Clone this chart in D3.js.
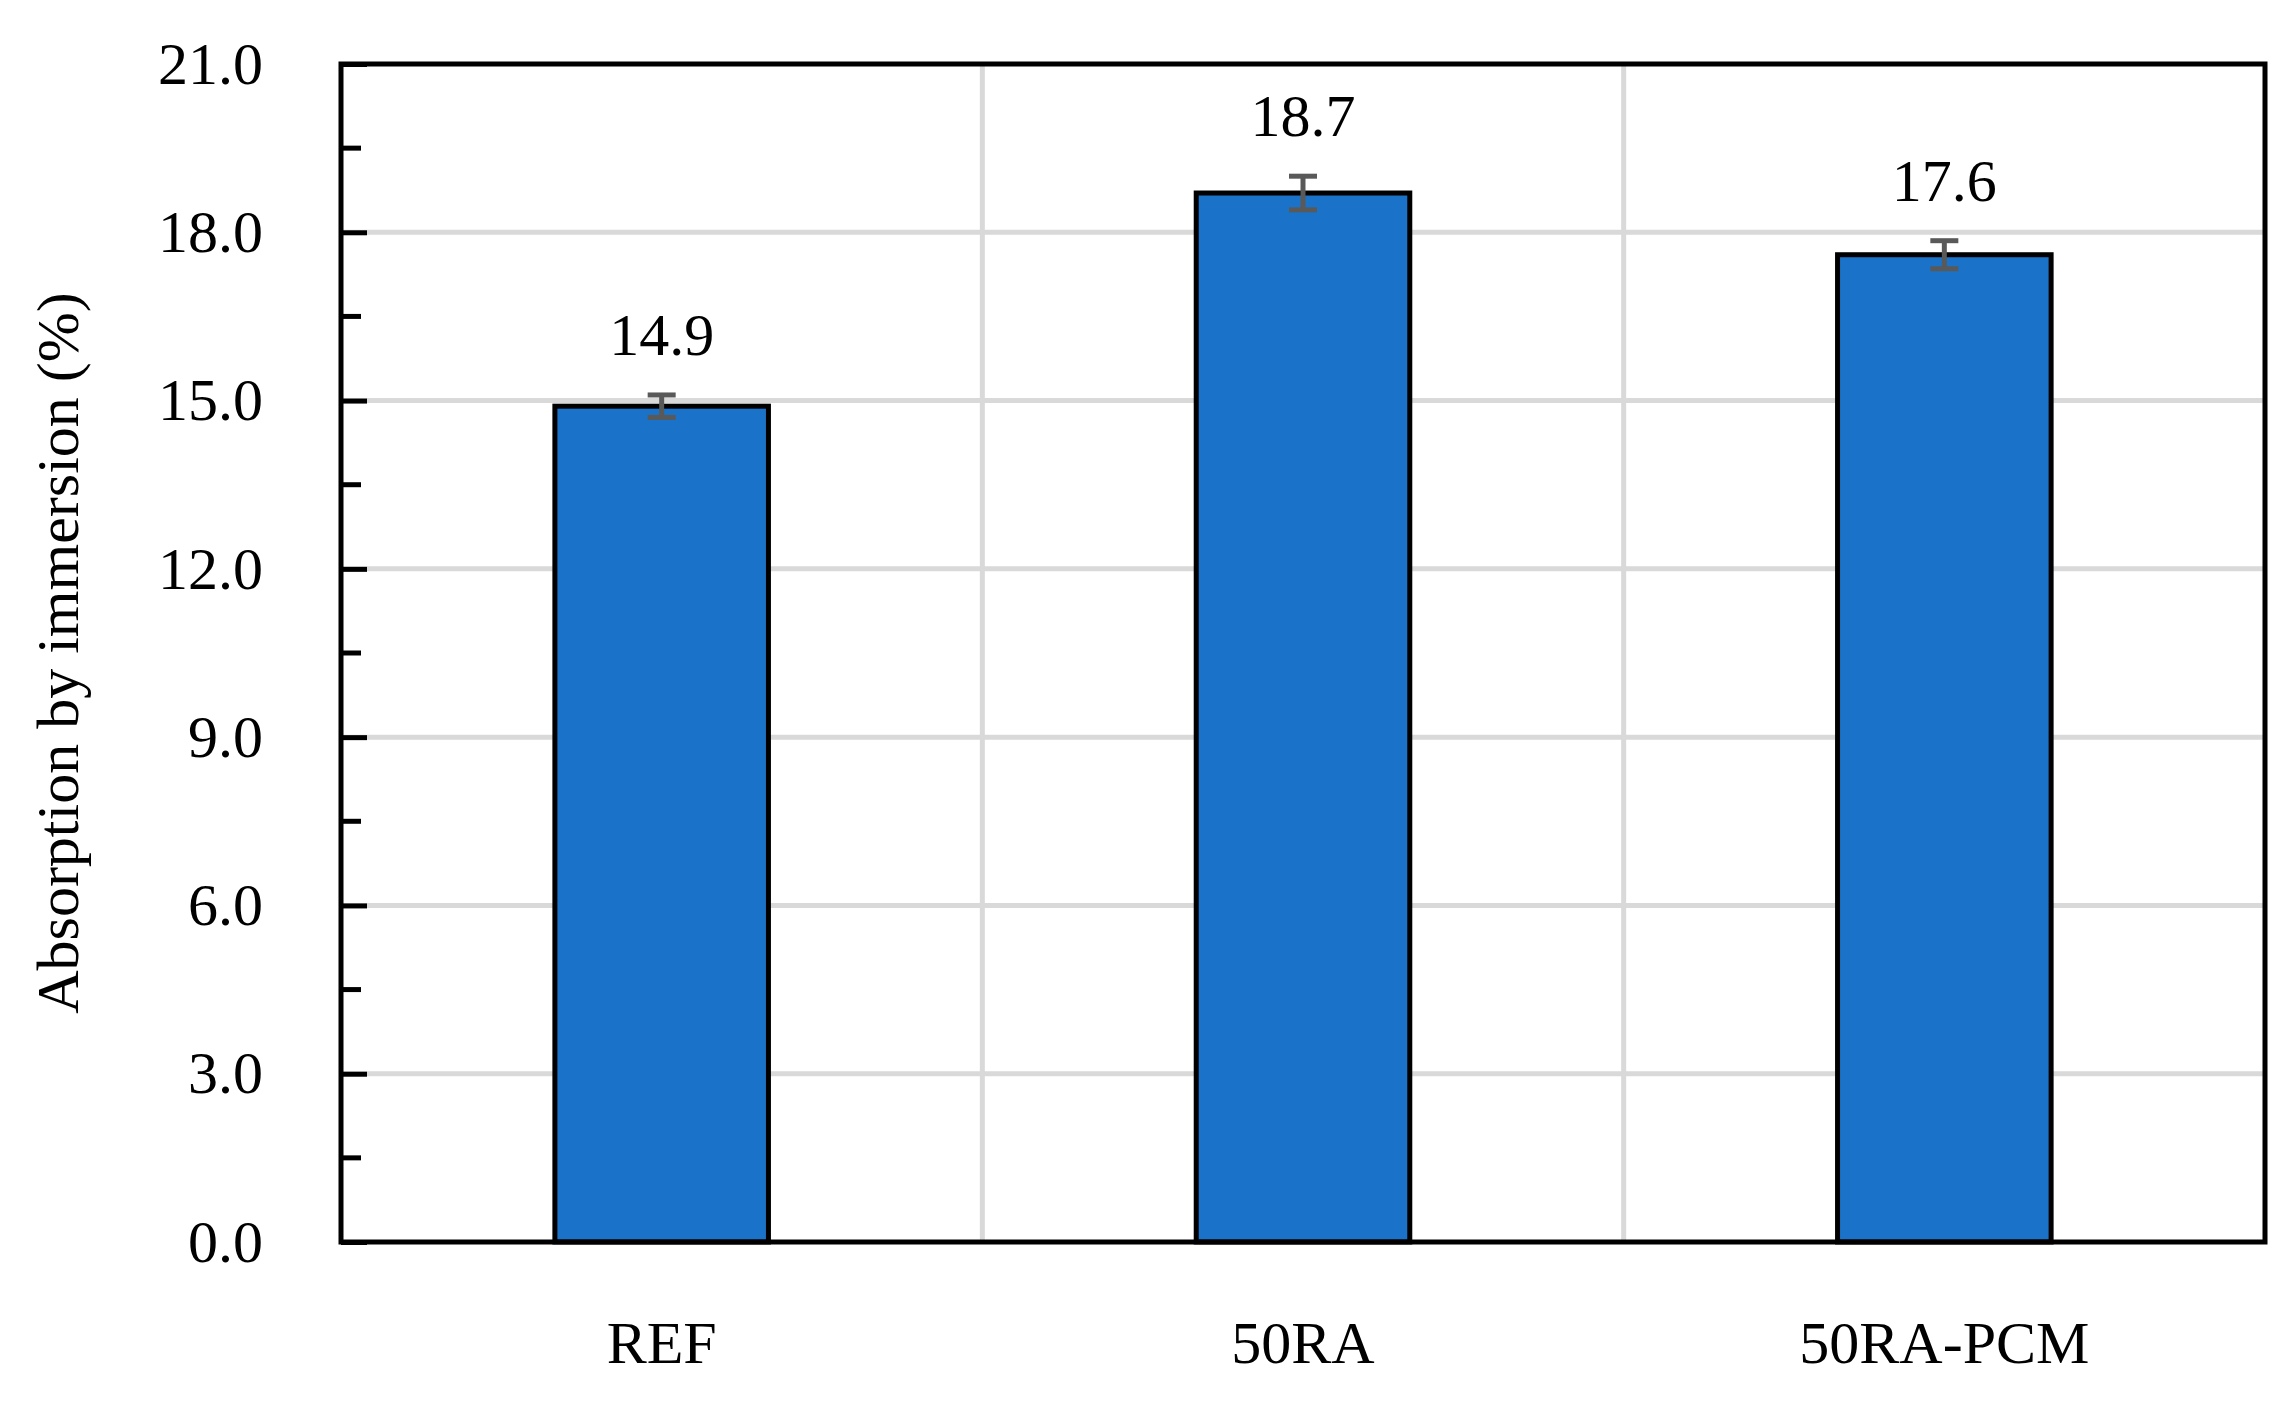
<!DOCTYPE html>
<html><head><meta charset="utf-8">
<script src="https://cdn.jsdelivr.net/npm/d3@7"></script>
<style>body{margin:0;background:#fff}</style></head>
<body><svg id="c" width="2294" height="1402"></svg>
<script>
const categories = ["REF", "50RA", "50RA-PCM"];
const values = [14.9, 18.7, 17.6];
const errors = [0.2, 0.3, 0.25];
const yTicks = [0, 3, 6, 9, 12, 15, 18, 21];
const yLabel = "Absorption by immersion (%)";

const svg = d3.select("#c");
const m = {l: 341, r: 2265, t: 64, b: 1242};
const font = "'Liberation Serif','DejaVu Serif',serif";
const x = d3.scaleBand().domain(categories).range([m.l, m.r]);
const y = d3.scaleLinear().domain([0, 21]).range([m.b, m.t]);

// grid
svg.append("g").selectAll("line").data(yTicks.slice(1, -1)).join("line")
  .attr("x1", m.l).attr("x2", m.r).attr("y1", d => y(d)).attr("y2", d => y(d))
  .attr("stroke", "#d9d9d9").attr("stroke-width", 5);
svg.append("g").selectAll("line").data(categories.slice(1)).join("line")
  .attr("x1", d => x(d)).attr("x2", d => x(d)).attr("y1", m.t).attr("y2", m.b)
  .attr("stroke", "#d9d9d9").attr("stroke-width", 5);

// bars
const bw = x.bandwidth() * 0.333;
svg.append("g").selectAll("rect").data(categories).join("rect")
  .attr("x", d => x(d) + x.bandwidth() / 2 - bw / 2).attr("width", bw)
  .attr("y", (d, i) => y(values[i])).attr("height", (d, i) => y(0) - y(values[i]))
  .attr("fill", "#1a73c9").attr("stroke", "#000").attr("stroke-width", 5);

// error bars
const eg = svg.append("g").attr("stroke", "#595959").attr("stroke-width", 5);
categories.forEach((c, i) => {
  const cx = x(c) + x.bandwidth() / 2;
  eg.append("line").attr("x1", cx).attr("x2", cx).attr("y1", y(values[i] - errors[i])).attr("y2", y(values[i] + errors[i]));
  [values[i] - errors[i], values[i] + errors[i]].forEach(v =>
    eg.append("line").attr("x1", cx - 14).attr("x2", cx + 14).attr("y1", y(v)).attr("y2", y(v)));
  svg.append("text").attr("x", cx).attr("y", y(values[i] + errors[i]) - 40)
    .attr("text-anchor", "middle").attr("font-family", font).attr("font-size", 60)
    .text(values[i].toFixed(1));
});

// frame
svg.append("rect").attr("x", m.l).attr("y", m.t).attr("width", m.r - m.l).attr("height", m.b - m.t)
  .attr("fill", "none").attr("stroke", "#000").attr("stroke-width", 5);

// y axis
const ya = svg.append("g").attr("transform", `translate(${m.l},0)`)
  .call(d3.axisLeft(y).tickValues(yTicks).tickFormat(d3.format(".1f")).tickSize(-26).tickPadding(78));
ya.select(".domain").remove();
ya.selectAll("line").attr("stroke", "#000").attr("stroke-width", 5);
ya.selectAll("text").attr("font-family", font).attr("font-size", 60).attr("fill", "#000");
const minor = d3.range(1.5, 21, 3);
svg.append("g").selectAll("line").data(minor).join("line")
  .attr("x1", m.l).attr("x2", m.l + 20).attr("y1", d => y(d)).attr("y2", d => y(d))
  .attr("stroke", "#000").attr("stroke-width", 5);

// x axis labels
const xa = svg.append("g").attr("transform", `translate(0,${m.b})`)
  .call(d3.axisBottom(x).tickSize(0).tickPadding(78));
xa.select(".domain").remove();
xa.selectAll("text").attr("font-family", font).attr("font-size", 60).attr("fill", "#000");

svg.append("text").attr("transform", `translate(78,${(m.t + m.b) / 2}) rotate(-90)`)
  .attr("text-anchor", "middle").attr("font-family", font).attr("font-size", 60).text(yLabel);
</script></body></html>
